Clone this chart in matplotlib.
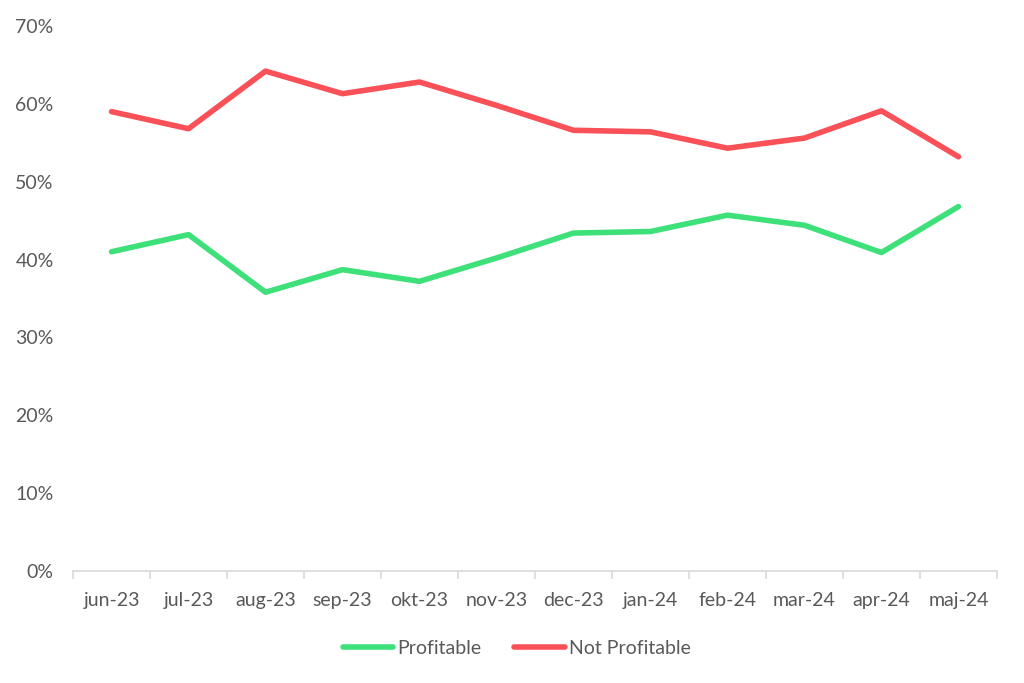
import matplotlib.pyplot as plt
from matplotlib.ticker import PercentFormatter

months = ['jun-23', 'jul-23', 'aug-23', 'sep-23', 'okt-23', 'nov-23',
          'dec-23', 'jan-24', 'feb-24', 'mar-24', 'apr-24', 'maj-24']
profitable = [41.0, 43.2, 35.8, 38.7, 37.2, 40.2, 43.4, 43.6, 45.7, 44.4, 40.9, 46.8]
not_profitable = [59.0, 56.8, 64.2, 61.3, 62.8, 59.8, 56.6, 56.4, 54.3, 55.6, 59.1, 53.2]

green = '#3EE07A'
red = '#FA5057'
text_color = '#595959'

plt.rcParams['font.family'] = ['Lato', 'DejaVu Sans']

fig = plt.figure(figsize = (10.24, 6.83), dpi = 100)
ax = fig.add_axes([0.0713, 0.164, 0.9023, 0.798])

x = range(len(months))
ax.plot(x, profitable, color = green, linewidth = 4, label = 'Profitable', solid_capstyle = 'round')
ax.plot(x, not_profitable, color = red, linewidth = 4, label = 'Not Profitable', solid_capstyle = 'round')

ax.set_ylim(0, 70)
ax.set_yticks(range(0, 71, 10))
ax.yaxis.set_major_formatter(PercentFormatter(decimals = 0))
ax.set_xlim(-0.5, len(months) - 0.5)
ax.set_xticks(list(x))
ax.set_xticklabels(months)
ax.set_xticks([i - 0.5 for i in range(len(months) + 1)], minor = True)

for side in ['top', 'right', 'left']:
    ax.spines[side].set_visible(False)
ax.spines['bottom'].set_color('#D9D9D9')
ax.spines['bottom'].set_linewidth(1.2)

ax.tick_params(axis = 'x', which = 'major', length = 0, pad = 15, labelsize = 14, labelcolor = text_color)
ax.tick_params(axis = 'x', which = 'minor', length = 6, color = '#D9D9D9', width = 1.2)
ax.tick_params(axis = 'y', length = 0, pad = 14, labelsize = 14, labelcolor = text_color)

ax.legend(loc = 'upper center', bbox_to_anchor = (0.48, -0.095), ncol = 2, frameon = False,
          fontsize = 14, labelcolor = text_color, handlelength = 2.6, handletextpad = 0.2,
          columnspacing = 1.7)

fig.savefig('out.png', dpi = 100)
